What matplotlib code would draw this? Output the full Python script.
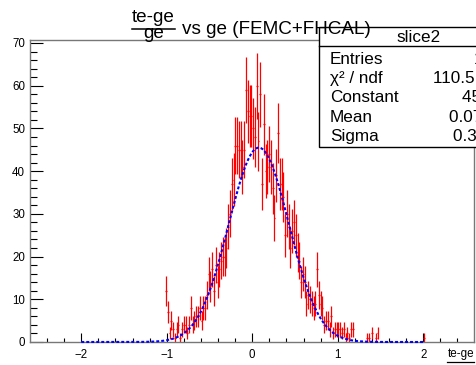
import numpy as np
import matplotlib
matplotlib.use("Agg")
import matplotlib.pyplot as plt
from matplotlib.patches import Rectangle
from matplotlib.lines import Line2D

plt.rcParams['font.family'] = ['Liberation Sans', 'DejaVu Sans']

# histogram binning
x_lo, x_hi, n_bins = -2.6, 2.6, 250
first_bin = 76
counts = [12, 7, 2, 5, 3, 1, 3, 4, 1, 3, 4, 4, 2, 4, 8, 4, 5, 6, 6, 8,
          5, 8, 8, 11, 16, 13, 17, 12, 18, 14, 17, 19, 20, 20, 22, 27, 30, 37, 38, 46,
          46, 45, 45, 41, 45, 59, 54, 53, 53, 50, 48, 60, 47, 58, 37, 51, 40, 41, 44, 41,
          36, 29, 39, 49, 37, 37, 34, 25, 30, 27, 22, 26, 28, 25, 21, 19, 14, 16, 14, 9,
          11, 10, 9, 8, 9, 17, 11, 9, 8, 4, 5, 5, 3, 6, 2, 3, 3, 3, 3, 2,
          3, 1, 2, 1, 3, 3, 0, 0, 0, 0, 0, 0, 0, 1, 1, 0, 2, 0, 1, 2]
far_bins = [221]
far_counts = [1]

# gaussian fit parameters (stats box)
fit_const, fit_mean, fit_sigma = 45.5, 0.077, 0.352
fit_range = (-2.0, 2.0)

stat_names = ["Entries", "\u03c7\u00b2 / ndf", "Constant", "Mean", "Sigma"]
stat_values = ["1919", "110.5 / 97", "45.5 \u00b1 1.6", "0.0770 \u00b1 0.0090", "0.3520 \u00b1 0.0070"]
stat_value_x = [474, 432.7, 461.7, 449.3, 453.3]

W, H = 477, 365
fig = plt.figure(figsize=(W / 100, H / 100), dpi=100)

def fx(px):
    return px / W

def fy(py):
    return 1 - py / H

ax = fig.add_axes([fx(30), fy(342), fx(474.5) - fx(30), fy(40) - fy(342)])

width = (x_hi - x_lo) / n_bins
bins = np.concatenate([np.arange(first_bin, first_bin + len(counts)), far_bins])
vals = np.array(counts + far_counts, dtype=float)
centers = x_lo + width * (bins + 0.5)
m = vals > 0
ax.errorbar(centers[m], vals[m], xerr=width / 2, yerr=np.sqrt(vals[m]),
            fmt='none', ecolor='#ff0000', elinewidth=0.9, capsize=0, zorder=2)

xf = np.linspace(fit_range[0], fit_range[1], 800)
yf = fit_const * np.exp(-0.5 * ((xf - fit_mean) / fit_sigma) ** 2)
ax.plot(xf, yf, color='#0000ff', lw=1.5, ls=(0, (1.4, 1.0)), zorder=3, clip_on=False)

ax.set_xlim(-2.6, 2.6)
ax.set_ylim(0, 70.7)
ax.set_xticks([-2, -1, 0, 1, 2])
ax.set_xticks(np.arange(-2.4, 2.6, 0.2), minor=True)
ax.set_yticks(np.arange(0, 71, 10))
ax.set_yticks(np.arange(0, 71, 2), minor=True)
ax.tick_params(axis='x', which='major', direction='in', length=6.5, width=0.8, labelsize=8.3, pad=5)
ax.tick_params(axis='x', which='minor', direction='in', length=3.2, width=0.8)
ax.tick_params(axis='y', which='major', direction='in', length=9.6, width=0.8, labelsize=8.3, pad=3.5)
ax.tick_params(axis='y', which='minor', direction='in', length=4.8, width=0.8)
for s in ax.spines.values():
    s.set_color('#777777')
    s.set_linewidth(1.0)

# title: fraction + text
fig.text(fx(153.3), fy(21.5), "te-ge", ha='center', va='baseline', fontsize=13.6)
fig.add_artist(Line2D([fx(131.7), fx(175)], [fy(29), fy(29)], color='black', lw=1.1))
fig.text(fx(153.3), fy(38), "ge", ha='center', va='baseline', fontsize=13.6)
fig.text(fx(181.7), fy(33.5), "vs ge (FEMC+FHCAL)", ha='left', va='baseline', fontsize=13.6, zorder=5)

# stats box
fig.add_artist(Rectangle((fx(319), fy(146.7)), fx(520) - fx(319), fy(27) - fy(146.7),
                         facecolor='white', edgecolor='black', lw=1.0, zorder=3))
fig.add_artist(Line2D([fx(319), fx(520)], [fy(45.7), fy(45.7)], color='black', lw=1.0, zorder=4))
fig.text(fx(419), fy(42.5), "slice2", ha='center', va='baseline', fontsize=12.3, zorder=6)
for i, (name, val, vx) in enumerate(zip(stat_names, stat_values, stat_value_x)):
    yb = 63.5 + 19.4 * i
    fig.text(fx(330), fy(yb), name, ha='left', va='baseline', fontsize=12.3, zorder=6)
    fig.text(fx(vx), fy(yb), val, ha='left', va='baseline', fontsize=12.3, zorder=6)

# x axis title (fraction, denominator falls outside the canvas)
fig.text(fx(474), fy(357), "te-ge", ha='right', va='baseline', fontsize=8.4)
fig.add_artist(Line2D([fx(447), fx(474)], [fy(361.7), fy(361.7)], color='black', lw=0.9))
fig.text(fx(460.5), fy(372), "ge", ha='center', va='baseline', fontsize=8.4)

fig.savefig("out.png", dpi=100)
